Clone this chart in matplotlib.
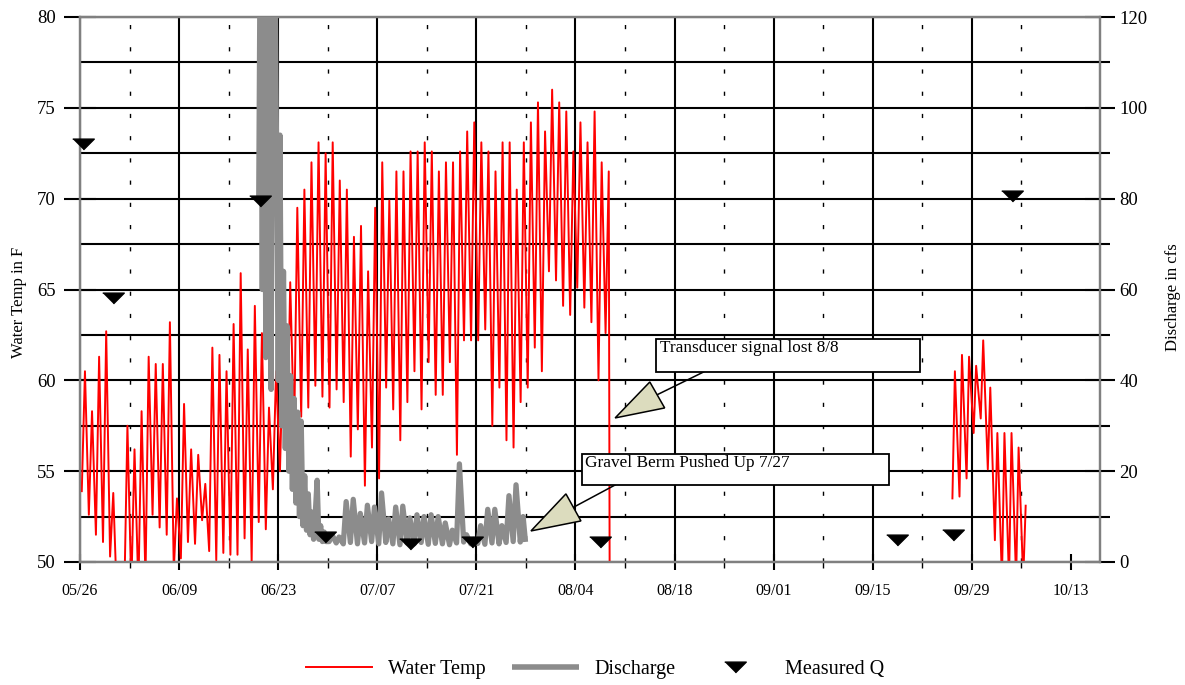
import matplotlib
matplotlib.use("Agg")
import matplotlib.pyplot as plt
from matplotlib.lines import Line2D
from matplotlib.patches import Rectangle, Polygon
from matplotlib.ticker import MultipleLocator, FixedLocator
import numpy as np
from datetime import datetime, timedelta

plt.rcParams['font.family'] = ['Liberation Serif', 'DejaVu Serif']

# ---- data (days counted from 05/26) ----
start_date = datetime(2005, 5, 26)

# water temp, first record: daily low / daily high (F), from day 0
temp1_low = [53.9, 52.6, 51.5, 51.1, 50.3, 47.5, 48.0, 48.5, 48.5, 49.0,
             52.6, 51.9, 51.5, 49.5, 50.2, 51.1, 51.0, 52.3, 50.6, 50.1,
             50.5, 50.4, 50.4, 51.3, 50.0, 52.2, 51.8, 54.0, 55.0, 56.0,
             57.0, 58.0, 58.5, 59.7, 59.1, 58.5, 59.5, 58.8, 55.8, 57.3,
             54.2, 56.3, 54.6, 59.6, 58.4, 56.7, 58.8, 60.5, 58.4, 61.0,
             59.2, 59.2, 61.0, 55.9, 62.2, 62.2, 62.2, 62.8, 57.5, 59.6,
             56.7, 56.3, 58.8, 59.6, 61.8, 60.5, 66.0, 65.5, 64.1, 63.6,
             65.1, 64.0, 63.2, 60.0, 62.6]
temp1_high = [60.5, 58.3, 61.3, 62.7, 53.8, 49.0, 57.5, 56.2, 58.3, 61.3,
              60.9, 60.9, 63.2, 53.5, 58.7, 56.2, 55.9, 54.3, 61.8, 61.4,
              60.5, 63.1, 65.9, 61.7, 64.1, 62.6, 58.5, 60.5, 62.0, 65.4,
              69.5, 70.5, 72.0, 73.1, 72.5, 73.1, 71.0, 70.5, 67.9, 68.5,
              66.0, 69.5, 72.0, 69.9, 71.5, 71.5, 72.6, 72.6, 73.1, 72.6,
              71.5, 72.0, 72.0, 72.6, 73.7, 74.2, 73.1, 72.6, 71.5, 73.1,
              73.1, 70.5, 73.1, 74.2, 75.3, 73.7, 76.0, 75.3, 74.8, 72.6,
              74.2, 73.1, 74.8, 72.0, 71.5]
temp1_last_day, temp1_last_val = 74.85, 45.0   # transducer lost 8/8

# water temp, second record, from day 123
temp2_first_day = 123
temp2_low = [53.5, 53.6, 54.6, 57.1, 57.9, 55.1, 51.2, 49.0, 49.0, 49.0, 49.0]
temp2_high = [60.5, 61.4, 61.3, 60.8, 62.2, 59.6, 57.1, 57.1, 57.1, 56.3, 53.1]

# discharge (cfs): flood period every 6 h from day 25.25
flow_flood_start = 25.25
flow_flood = [80, 150, 60, 150, 45, 150, 96, 38, 150, 140, 94, 40, 94, 30,
              64, 25, 52, 20, 41, 16, 36, 13, 33, 10, 31, 8, 19, 7, 15, 6,
              11, 5, 11, 18, 5, 8, 4.5, 6.6, 4.5]
# low-flow period: daily base / daily peak from day 35
flow_low_start = 35
flow_base = [4.5, 4.2, 4.0, 4.3, 4.0, 4.2, 4.5, 4.0, 4.3, 4.0, 3.8, 4.2, 4.0, 4.3,
             3.9, 4.1, 4.0, 3.8, 4.2, 4.4, 4.0, 4.1, 3.9, 4.2, 4.0, 4.3, 4.5, 4.4]
flow_peak = [6.0, 5.5, 13.3, 13.8, 10.7, 12.5, 12.1, 15.2, 9.5, 12.1, 12.3, 9.7,
             10.4, 10.0, 10.4, 10.0, 8.6, 7.0, 21.6, 6.0, 5.0, 8.0, 11.6, 11.6,
             8.0, 14.6, 17.0, 10.0]
flow_last_day, flow_last_val = 62.9, 5.0

# measured discharge
meas_day = [0.4, 4.7, 25.4, 34.6, 46.6, 55.4, 73.5, 115.4, 123.3, 131.7]
meas_q = [92.0, 58.1, 79.4, 5.6, 4.0, 4.3, 4.5, 4.8, 5.9, 80.6]

# ---- build series ----
td, tv = [], []
for i, (lo, hi) in enumerate(zip(temp1_low, temp1_high)):
    td += [i + 0.25, i + 0.7]
    tv += [lo, hi]
td.append(temp1_last_day); tv.append(temp1_last_val)
td.append(np.nan); tv.append(np.nan)
for i, (lo, hi) in enumerate(zip(temp2_low, temp2_high)):
    td += [temp2_first_day + i + 0.25, temp2_first_day + i + 0.6]
    tv += [lo, hi]

qd = [flow_flood_start + 0.25 * k for k in range(len(flow_flood))]
qv = list(flow_flood)
for i, (b, p) in enumerate(zip(flow_base, flow_peak)):
    qd += [flow_low_start + i + 0.2, flow_low_start + i + 0.6]
    qv += [b, p]
qd.append(flow_last_day); qv.append(flow_last_val)

# ---- figure ----
fig = plt.figure(figsize=(11.85, 6.85), dpi=100)
ax = fig.add_axes([80/1185, 1 - 562/685, 1020/1185, 545/685])
ax2 = ax.twinx()

spine_col = '#808080'
for a in (ax, ax2):
    for s in a.spines.values():
        s.set_color(spine_col)
        s.set_linewidth(1.6)

ax.set_xlim(0, 144.1)
ax.set_ylim(50, 80)
ax2.set_ylim(0, 120)

major_days = list(range(0, 141, 14))
ax.xaxis.set_major_locator(FixedLocator(major_days))
ax.xaxis.set_minor_locator(FixedLocator([d + 7 for d in major_days if d + 7 < 144]))
ax.set_xticklabels([(start_date + timedelta(days=d)).strftime('%m/%d') for d in major_days],
                   fontsize=11.5)
ax.yaxis.set_major_locator(MultipleLocator(5))
ax.yaxis.set_minor_locator(MultipleLocator(2.5))
ax2.yaxis.set_major_locator(MultipleLocator(20))
ax2.yaxis.set_minor_locator(MultipleLocator(10))

ax.set_axisbelow(True)
ax.grid(axis='y', which='both', color='black', linewidth=1.5)
ax.grid(axis='x', which='major', color='black', linewidth=1.5)
ax.grid(axis='x', which='minor', color='black', linewidth=1.0, linestyle=(0, (3, 13)))
ygl = ax.yaxis.get_gridlines()
ygl[0].set_visible(False); ygl[-1].set_visible(False)
ax.xaxis.get_gridlines()[-1].set_visible(False)

ax.tick_params(axis='y', which='major', direction='inout', length=23, width=1.5,
               pad=6, labelsize=13.5)
ax.tick_params(axis='y', which='minor', length=0)
ax.tick_params(axis='x', which='major', direction='inout', length=12, width=1.5,
               pad=9)
ax.tick_params(axis='x', which='minor', direction='out', length=4, width=1)
ax2.tick_params(axis='y', which='major', direction='inout', length=22, width=1.5,
                pad=3, labelsize=13.5)
ax2.tick_params(axis='y', which='minor', direction='inout', length=14, width=1.5)

ax.plot(td, tv, color='red', linewidth=1.4, zorder=3)
ax2.plot(qd, qv, color='#8c8c8c', linewidth=3.8, solid_joinstyle='round', zorder=3)
tri = [(-1, 0.5), (1, 0.5), (0, -0.5)]
ax2.plot(meas_day, meas_q, linestyle='none', marker=tri, markersize=15.5,
         color='black', zorder=5, clip_on=False)

ax.set_ylabel('Water Temp in F', fontsize=12)
ax.yaxis.set_label_coords(-0.052, 0.477)
ax2.set_ylabel('Discharge in cfs', fontsize=12)
ax2.yaxis.set_label_coords(1.064, 0.486)

# callouts (drawn in temperature coordinates)
callouts = [
    ('Transducer signal lost 8/8', (81.4, 60.46), 37.3, 1.82,
     [(80.5, 59.91), (82.6, 58.48), (75.6, 57.93)], [(88.1, 60.46), (81.5, 59.2)]),
    ('Gravel Berm Pushed Up 7/27', (70.9, 54.24), 43.4, 1.71,
     [(68.65, 53.75), (70.77, 52.26), (63.71, 51.71)], [(75.6, 54.24), (69.8, 53.03)]),
]
for text, (x0, y0), w, h, wedge, line in callouts:
    ax2.plot(*zip(*[(p[0], (p[1] - 50) * 4) for p in line]), color='black',
             linewidth=1.1, zorder=6)
    ax2.add_patch(Polygon([(p[0], (p[1] - 50) * 4) for p in wedge], closed=True,
                          facecolor='#dcdcbe', edgecolor='black', linewidth=1.1, zorder=6))
    ax2.add_patch(Rectangle((x0, (y0 - 50) * 4), w, h * 4, facecolor='white',
                            edgecolor='black', linewidth=1.3, zorder=6))
    ax2.text(x0 + 0.5, (y0 + h - 50) * 4 - 0.2, text, fontsize=12.4, va='top',
             ha='left', zorder=7)

handles = [Line2D([], [], color='red', linewidth=1.4),
           Line2D([], [], color='#8c8c8c', linewidth=4, solid_capstyle='butt'),
           Line2D([], [], linestyle='none', marker=tri, markersize=15.5, color='black')]
fig.legend(handles, ['Water Temp', 'Discharge', 'Measured Q'], loc='center',
           bbox_to_anchor=(0.502, 0.022), ncol=3, frameon=False, fontsize=14.5,
           handlelength=3.3, handletextpad=0.8, columnspacing=1.3)

fig.savefig('out.png', dpi=100, facecolor='white')
